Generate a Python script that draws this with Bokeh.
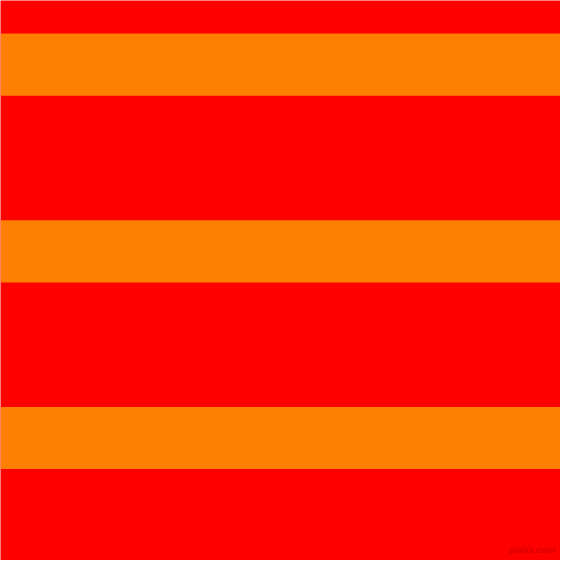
from bokeh.plotting import figure
from bokeh.models import Range1d
from bokeh.embed import file_html
from bokeh.resources import INLINE
from bokeh.core.properties import value

# Stripe bands (pixel rows in the 576px original image, top = 0)
band_tops = [34, 226, 418]
band_bottoms = [98, 290, 482]
band_color = "#FF8000"
background_color = "#FF0000"
watermark = ["pixlis.com"]

p = figure(width=560, height=560, output_backend="svg", toolbar_location=None,
           x_range=Range1d(0, 576), y_range=Range1d(576, 0),
           min_border=0, background_fill_color=background_color,
           border_fill_color=background_color)
p.axis.visible = False
p.grid.visible = False
p.outline_line_color = None

p.quad(left=0, right=576, top=band_tops, bottom=band_bottoms,
       fill_color=band_color, line_color=None)

p.text(x=[571], y=[565], text=watermark, text_align="right", text_baseline="middle",
       text_font=value("DejaVu Sans"), text_font_size="7pt", text_color="#C80000")

open("out.html", "w").write(file_html(p, INLINE))
